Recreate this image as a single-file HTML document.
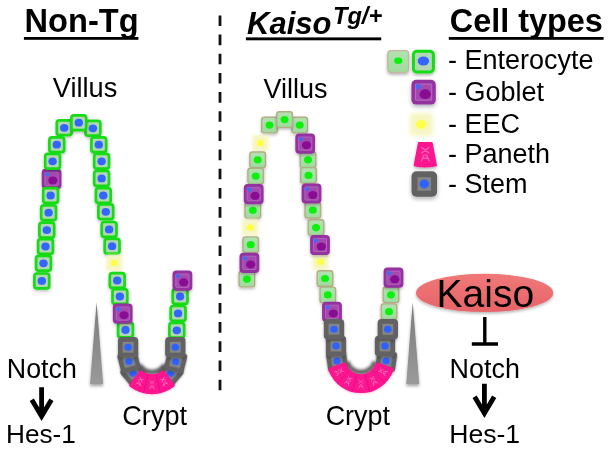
<!DOCTYPE html><html><head><meta charset="utf-8"><title>Kaiso model</title><style>html,body{margin:0;padding:0;background:#fff}</style></head><body><svg width="611" height="450" viewBox="0 0 611 450" style="display:block;font-family:'Liberation Sans',Arial,sans-serif">
<defs>
<filter id="sh" x="-40%" y="-40%" width="180%" height="200%"><feDropShadow dx="0" dy="1.5" stdDeviation="1.5" flood-color="#000" flood-opacity="0.27"/></filter>
<filter id="bl" x="-30%" y="-30%" width="160%" height="160%"><feGaussianBlur stdDeviation="1.4"/></filter>
<linearGradient id="tg" x1="0" y1="0" x2="0" y2="1"><stop offset="0" stop-color="#7a7a7a"/><stop offset="1" stop-color="#9a9a9a"/></linearGradient>
<filter id="sh2" x="-10%" y="-30%" width="120%" height="180%"><feDropShadow dx="0" dy="1.5" stdDeviation="1.5" flood-color="#000" flood-opacity="0.3"/></filter>
<linearGradient id="kg" x1="0" y1="0" x2="0" y2="1"><stop offset="0" stop-color="#f07878"/><stop offset="1" stop-color="#e66468"/></linearGradient>
<filter id="bl2" x="-30%" y="-30%" width="160%" height="160%"><feGaussianBlur stdDeviation="0.5"/></filter>
<filter id="bl3" x="-50%" y="-80%" width="200%" height="260%"><feGaussianBlur stdDeviation="1.7"/></filter>
<filter id="shp" x="-10%" y="-10%" width="120%" height="130%"><feDropShadow dx="0" dy="0.5" stdDeviation="0.8" flood-color="#c06" flood-opacity="0.3"/></filter>
<linearGradient id="egg" x1="0" y1="0" x2="0" y2="1"><stop offset="0" stop-color="#b1e2b1"/><stop offset="1" stop-color="#9edc9e"/></linearGradient>
<filter id="sh3" x="-60%" y="-10%" width="220%" height="125%"><feDropShadow dx="0" dy="2.2" stdDeviation="1.8" flood-color="#000" flood-opacity="0.35"/></filter>
<filter id="shL" x="-30%" y="-30%" width="160%" height="180%"><feDropShadow dx="0" dy="1.8" stdDeviation="1.6" flood-color="#000" flood-opacity="0.3"/></filter>
</defs>
<rect width="611" height="450" fill="#fff"/>
<line x1="220" y1="15.4" x2="220" y2="391" stroke="#111" stroke-width="2.8" stroke-dasharray="10.6 8.57"/>
<path d="M96.6 302.3 L103.2 384 L90 384 Z" fill="url(#tg)" filter="url(#sh3)"/>
<path d="M412.7 302.3 L419.3 384 L406.2 384 Z" fill="url(#tg)" filter="url(#sh3)"/>
<path d="M139.6 365 A14.2 14.2 0 0 0 164.4 365" stroke="#444" stroke-width="5" fill="none" filter="url(#bl3)" opacity="0.85"/>
<path d="M347.2 361.5 A14.2 14.2 0 0 0 374.8 361.5" stroke="#444" stroke-width="5" fill="none" filter="url(#bl3)" opacity="0.85"/>
<g transform="translate(51.6 178.8) rotate(0) scale(1.0)" filter="url(#sh)"><rect x="-9.9" y="-10.1" width="19.8" height="20.2" rx="4" fill="#9431a0"/><rect x="-6.6" y="-6.6" width="13.2" height="13.2" rx="0.8" fill="#a549ae" stroke="#b56abd" stroke-width="0.9"/><ellipse cx="1.3" cy="1.6" rx="4.6" ry="4" fill="#880a92"/><circle cx="-4.3" cy="-4.5" r="2.1" fill="#3f6cf5"/></g>
<g transform="translate(64.2 127.8) rotate(0) scale(1.0)" filter="url(#sh)"><rect x="-7.4" y="-7.4" width="14.8" height="14.8" rx="2.6" fill="#b3d6b3" stroke="#16dc16" stroke-width="2.7"/><ellipse cx="0" cy="0" rx="4.2" ry="3.9" fill="#3366ff"/></g>
<g transform="translate(92.9 128.3) rotate(0) scale(1.0)" filter="url(#sh)"><rect x="-7.4" y="-7.4" width="14.8" height="14.8" rx="2.6" fill="#b3d6b3" stroke="#16dc16" stroke-width="2.7"/><ellipse cx="0" cy="0" rx="4.2" ry="3.9" fill="#3366ff"/></g>
<g transform="translate(56.8 144.7) rotate(0) scale(1.0)" filter="url(#sh)"><rect x="-7.4" y="-7.4" width="14.8" height="14.8" rx="2.6" fill="#b3d6b3" stroke="#16dc16" stroke-width="2.7"/><ellipse cx="0" cy="0" rx="4.2" ry="3.9" fill="#3366ff"/></g>
<g transform="translate(98.8 144.7) rotate(0) scale(1.0)" filter="url(#sh)"><rect x="-7.4" y="-7.4" width="14.8" height="14.8" rx="2.6" fill="#b3d6b3" stroke="#16dc16" stroke-width="2.7"/><ellipse cx="0" cy="0" rx="4.2" ry="3.9" fill="#3366ff"/></g>
<g transform="translate(52.6 161.3) rotate(0) scale(1.0)" filter="url(#sh)"><rect x="-7.4" y="-7.4" width="14.8" height="14.8" rx="2.6" fill="#b3d6b3" stroke="#16dc16" stroke-width="2.7"/><ellipse cx="0" cy="0" rx="4.2" ry="3.9" fill="#3366ff"/></g>
<g transform="translate(101.6 161.3) rotate(0) scale(1.0)" filter="url(#sh)"><rect x="-7.4" y="-7.4" width="14.8" height="14.8" rx="2.6" fill="#b3d6b3" stroke="#16dc16" stroke-width="2.7"/><ellipse cx="0" cy="0" rx="4.2" ry="3.9" fill="#3366ff"/></g>
<g transform="translate(101.6 178.4) rotate(0) scale(1.0)" filter="url(#sh)"><rect x="-7.4" y="-7.4" width="14.8" height="14.8" rx="2.6" fill="#b3d6b3" stroke="#16dc16" stroke-width="2.7"/><ellipse cx="0" cy="0" rx="4.2" ry="3.9" fill="#3366ff"/></g>
<g transform="translate(50.6 195.5) rotate(0) scale(1.0)" filter="url(#sh)"><rect x="-7.4" y="-7.4" width="14.8" height="14.8" rx="2.6" fill="#b3d6b3" stroke="#16dc16" stroke-width="2.7"/><ellipse cx="0" cy="0" rx="4.2" ry="3.9" fill="#3366ff"/></g>
<g transform="translate(103.3 195.5) rotate(0) scale(1.0)" filter="url(#sh)"><rect x="-7.4" y="-7.4" width="14.8" height="14.8" rx="2.6" fill="#b3d6b3" stroke="#16dc16" stroke-width="2.7"/><ellipse cx="0" cy="0" rx="4.2" ry="3.9" fill="#3366ff"/></g>
<g transform="translate(48.6 212.7) rotate(0) scale(1.0)" filter="url(#sh)"><rect x="-7.4" y="-7.4" width="14.8" height="14.8" rx="2.6" fill="#b3d6b3" stroke="#16dc16" stroke-width="2.7"/><ellipse cx="0" cy="0" rx="4.2" ry="3.9" fill="#3366ff"/></g>
<g transform="translate(105.8 211.8) rotate(0) scale(1.0)" filter="url(#sh)"><rect x="-7.4" y="-7.4" width="14.8" height="14.8" rx="2.6" fill="#b3d6b3" stroke="#16dc16" stroke-width="2.7"/><ellipse cx="0" cy="0" rx="4.2" ry="3.9" fill="#3366ff"/></g>
<g transform="translate(46.8 230.1) rotate(0) scale(1.0)" filter="url(#sh)"><rect x="-7.4" y="-7.4" width="14.8" height="14.8" rx="2.6" fill="#b3d6b3" stroke="#16dc16" stroke-width="2.7"/><ellipse cx="0" cy="0" rx="4.2" ry="3.9" fill="#3366ff"/></g>
<g transform="translate(109.1 229.4) rotate(0) scale(1.0)" filter="url(#sh)"><rect x="-7.4" y="-7.4" width="14.8" height="14.8" rx="2.6" fill="#b3d6b3" stroke="#16dc16" stroke-width="2.7"/><ellipse cx="0" cy="0" rx="4.2" ry="3.9" fill="#3366ff"/></g>
<g transform="translate(45.5 246.5) rotate(0) scale(1.0)" filter="url(#sh)"><rect x="-7.4" y="-7.4" width="14.8" height="14.8" rx="2.6" fill="#b3d6b3" stroke="#16dc16" stroke-width="2.7"/><ellipse cx="0" cy="0" rx="4.2" ry="3.9" fill="#3366ff"/></g>
<g transform="translate(112.1 246.2) rotate(0) scale(1.0)" filter="url(#sh)"><rect x="-7.4" y="-7.4" width="14.8" height="14.8" rx="2.6" fill="#b3d6b3" stroke="#16dc16" stroke-width="2.7"/><ellipse cx="0" cy="0" rx="4.2" ry="3.9" fill="#3366ff"/></g>
<g transform="translate(43.5 263.3) rotate(0) scale(1.0)" filter="url(#sh)"><rect x="-7.4" y="-7.4" width="14.8" height="14.8" rx="2.6" fill="#b3d6b3" stroke="#16dc16" stroke-width="2.7"/><ellipse cx="0" cy="0" rx="4.2" ry="3.9" fill="#3366ff"/></g>
<g transform="translate(114.2 263.0) rotate(0) scale(1.0)"><rect x="-8.2" y="-8.2" width="16.4" height="16.4" rx="2" fill="#f6f6c2" filter="url(#bl)"/><ellipse cx="0" cy="0" rx="3.7" ry="3.3" fill="#ffff4a" filter="url(#bl2)"/></g>
<g transform="translate(41.8 280.9) rotate(0) scale(1.0)" filter="url(#sh)"><rect x="-7.4" y="-7.4" width="14.8" height="14.8" rx="2.6" fill="#b3d6b3" stroke="#16dc16" stroke-width="2.7"/><ellipse cx="0" cy="0" rx="4.2" ry="3.9" fill="#3366ff"/></g>
<g transform="translate(117.2 280.5) rotate(0) scale(1.0)" filter="url(#sh)"><rect x="-7.4" y="-7.4" width="14.8" height="14.8" rx="2.6" fill="#b3d6b3" stroke="#16dc16" stroke-width="2.7"/><ellipse cx="0" cy="0" rx="4.2" ry="3.9" fill="#3366ff"/></g>
<g transform="translate(119.9 296.5) rotate(0) scale(1.0)" filter="url(#sh)"><rect x="-7.4" y="-7.4" width="14.8" height="14.8" rx="2.6" fill="#b3d6b3" stroke="#16dc16" stroke-width="2.7"/><ellipse cx="0" cy="0" rx="4.2" ry="3.9" fill="#3366ff"/></g>
<g transform="translate(125.5 330.0) rotate(0) scale(1.0)" filter="url(#sh)"><rect x="-7.4" y="-7.4" width="14.8" height="14.8" rx="2.6" fill="#b3d6b3" stroke="#16dc16" stroke-width="2.7"/><ellipse cx="0" cy="0" rx="4.2" ry="3.9" fill="#3366ff"/></g>
<g transform="translate(180.1 296.5) rotate(0) scale(1.0)" filter="url(#sh)"><rect x="-7.4" y="-7.4" width="14.8" height="14.8" rx="2.6" fill="#b3d6b3" stroke="#16dc16" stroke-width="2.7"/><ellipse cx="0" cy="0" rx="4.2" ry="3.9" fill="#3366ff"/></g>
<g transform="translate(178.1 313.4) rotate(0) scale(1.0)" filter="url(#sh)"><rect x="-7.4" y="-7.4" width="14.8" height="14.8" rx="2.6" fill="#b3d6b3" stroke="#16dc16" stroke-width="2.7"/><ellipse cx="0" cy="0" rx="4.2" ry="3.9" fill="#3366ff"/></g>
<g transform="translate(176.8 330.3) rotate(0) scale(1.0)" filter="url(#sh)"><rect x="-7.4" y="-7.4" width="14.8" height="14.8" rx="2.6" fill="#b3d6b3" stroke="#16dc16" stroke-width="2.7"/><ellipse cx="0" cy="0" rx="4.2" ry="3.9" fill="#3366ff"/></g>
<g transform="translate(78.8 122.7) rotate(0) scale(1.0)" filter="url(#sh)"><rect x="-7.4" y="-7.4" width="14.8" height="14.8" rx="2.6" fill="#b3d6b3" stroke="#16dc16" stroke-width="2.7"/><ellipse cx="0" cy="0" rx="4.2" ry="3.9" fill="#3366ff"/></g>
<g transform="translate(133.1 373.2) rotate(-40) scale(1.0)" filter="url(#sh)"><rect x="-10.2" y="-10.2" width="20.4" height="20.4" rx="4" fill="#626262"/><rect x="-5.4" y="-5.4" width="10.8" height="10.8" fill="#858585"/><ellipse cx="0" cy="0" rx="3.8" ry="3.5" fill="#2e62ff"/></g>
<g transform="translate(170.7 373.2) rotate(40) scale(1.0)" filter="url(#sh)"><rect x="-10.2" y="-10.2" width="20.4" height="20.4" rx="4" fill="#626262"/><rect x="-5.4" y="-5.4" width="10.8" height="10.8" fill="#858585"/><ellipse cx="0" cy="0" rx="3.8" ry="3.5" fill="#2e62ff"/></g>
<g transform="translate(128.9 361.5) rotate(-14) scale(1.0)" filter="url(#sh)"><rect x="-10.2" y="-10.2" width="20.4" height="20.4" rx="4" fill="#626262"/><rect x="-5.4" y="-5.4" width="10.8" height="10.8" fill="#858585"/><ellipse cx="0" cy="0" rx="3.8" ry="3.5" fill="#2e62ff"/></g>
<g transform="translate(175.7 361.8) rotate(14) scale(1.0)" filter="url(#sh)"><rect x="-10.2" y="-10.2" width="20.4" height="20.4" rx="4" fill="#626262"/><rect x="-5.4" y="-5.4" width="10.8" height="10.8" fill="#858585"/><ellipse cx="0" cy="0" rx="3.8" ry="3.5" fill="#2e62ff"/></g>
<g transform="translate(128.1 347.2) rotate(0) scale(1.0)" filter="url(#sh)"><rect x="-10.2" y="-10.2" width="20.4" height="20.4" rx="4" fill="#626262"/><rect x="-5.4" y="-5.4" width="10.8" height="10.8" fill="#858585"/><ellipse cx="0" cy="0" rx="3.8" ry="3.5" fill="#2e62ff"/></g>
<g transform="translate(175.3 347.2) rotate(0) scale(1.0)" filter="url(#sh)"><rect x="-10.2" y="-10.2" width="20.4" height="20.4" rx="4" fill="#626262"/><rect x="-5.4" y="-5.4" width="10.8" height="10.8" fill="#858585"/><ellipse cx="0" cy="0" rx="3.8" ry="3.5" fill="#2e62ff"/></g>
<g transform="translate(122.7 313.6) rotate(0) scale(1.0)" filter="url(#sh)"><rect x="-9.9" y="-10.1" width="19.8" height="20.2" rx="4" fill="#9431a0"/><rect x="-6.6" y="-6.6" width="13.2" height="13.2" rx="0.8" fill="#a549ae" stroke="#b56abd" stroke-width="0.9"/><ellipse cx="1.3" cy="1.6" rx="4.6" ry="4" fill="#880a92"/><circle cx="-4.3" cy="-4.5" r="2.1" fill="#3f6cf5"/></g>
<g transform="translate(182.4 280.7) rotate(0) scale(1.0)" filter="url(#sh)"><rect x="-9.9" y="-10.1" width="19.8" height="20.2" rx="4" fill="#9431a0"/><rect x="-6.6" y="-6.6" width="13.2" height="13.2" rx="0.8" fill="#a549ae" stroke="#b56abd" stroke-width="0.9"/><ellipse cx="1.3" cy="1.6" rx="4.6" ry="4" fill="#880a92"/><circle cx="-4.3" cy="-4.5" r="2.1" fill="#3f6cf5"/></g>
<g transform="translate(269.5 125.1) rotate(0) scale(1.0)" filter="url(#sh)"><rect x="-7.8" y="-7.8" width="15.6" height="15.6" rx="2.6" fill="url(#egg)" stroke="#b3ad84" stroke-width="1.4"/><ellipse cx="0" cy="0" rx="4" ry="3.6" fill="#0df00d"/></g>
<g transform="translate(299.7 125.1) rotate(0) scale(1.0)" filter="url(#sh)"><rect x="-7.8" y="-7.8" width="15.6" height="15.6" rx="2.6" fill="url(#egg)" stroke="#b3ad84" stroke-width="1.4"/><ellipse cx="0" cy="0" rx="4" ry="3.6" fill="#0df00d"/></g>
<g transform="translate(284.6 119.6) rotate(0) scale(1.0)" filter="url(#sh)"><rect x="-7.8" y="-7.8" width="15.6" height="15.6" rx="2.6" fill="url(#egg)" stroke="#b3ad84" stroke-width="1.4"/><ellipse cx="0" cy="0" rx="4" ry="3.6" fill="#0df00d"/></g>
<g transform="translate(260.4 143.1) rotate(0) scale(1.0)"><rect x="-8.2" y="-8.2" width="16.4" height="16.4" rx="2" fill="#f6f6c2" filter="url(#bl)"/><ellipse cx="0" cy="0" rx="3.7" ry="3.3" fill="#ffff4a" filter="url(#bl2)"/></g>
<g transform="translate(257.7 159.8) rotate(0) scale(1.0)" filter="url(#sh)"><rect x="-7.8" y="-7.8" width="15.6" height="15.6" rx="2.6" fill="url(#egg)" stroke="#b3ad84" stroke-width="1.4"/><ellipse cx="0" cy="0" rx="4" ry="3.6" fill="#0df00d"/></g>
<g transform="translate(308.0 159.8) rotate(0) scale(1.0)" filter="url(#sh)"><rect x="-7.8" y="-7.8" width="15.6" height="15.6" rx="2.6" fill="url(#egg)" stroke="#b3ad84" stroke-width="1.4"/><ellipse cx="0" cy="0" rx="4" ry="3.6" fill="#0df00d"/></g>
<g transform="translate(255.7 176.1) rotate(0) scale(1.0)" filter="url(#sh)"><rect x="-7.8" y="-7.8" width="15.6" height="15.6" rx="2.6" fill="url(#egg)" stroke="#b3ad84" stroke-width="1.4"/><ellipse cx="0" cy="0" rx="4" ry="3.6" fill="#0df00d"/></g>
<g transform="translate(308.5 175.4) rotate(0) scale(1.0)" filter="url(#sh)"><rect x="-7.8" y="-7.8" width="15.6" height="15.6" rx="2.6" fill="url(#egg)" stroke="#b3ad84" stroke-width="1.4"/><ellipse cx="0" cy="0" rx="4" ry="3.6" fill="#0df00d"/></g>
<g transform="translate(252.8 210.3) rotate(0) scale(1.0)" filter="url(#sh)"><rect x="-7.8" y="-7.8" width="15.6" height="15.6" rx="2.6" fill="url(#egg)" stroke="#b3ad84" stroke-width="1.4"/><ellipse cx="0" cy="0" rx="4" ry="3.6" fill="#0df00d"/></g>
<g transform="translate(312.8 210.2) rotate(0) scale(1.0)" filter="url(#sh)"><rect x="-7.8" y="-7.8" width="15.6" height="15.6" rx="2.6" fill="url(#egg)" stroke="#b3ad84" stroke-width="1.4"/><ellipse cx="0" cy="0" rx="4" ry="3.6" fill="#0df00d"/></g>
<g transform="translate(250.2 227.6) rotate(0) scale(1.0)"><rect x="-8.2" y="-8.2" width="16.4" height="16.4" rx="2" fill="#f6f6c2" filter="url(#bl)"/><ellipse cx="0" cy="0" rx="3.7" ry="3.3" fill="#ffff4a" filter="url(#bl2)"/></g>
<g transform="translate(316.0 227.6) rotate(0) scale(1.0)" filter="url(#sh)"><rect x="-7.8" y="-7.8" width="15.6" height="15.6" rx="2.6" fill="url(#egg)" stroke="#b3ad84" stroke-width="1.4"/><ellipse cx="0" cy="0" rx="4" ry="3.6" fill="#0df00d"/></g>
<g transform="translate(250.7 244.7) rotate(0) scale(1.0)" filter="url(#sh)"><rect x="-7.8" y="-7.8" width="15.6" height="15.6" rx="2.6" fill="url(#egg)" stroke="#b3ad84" stroke-width="1.4"/><ellipse cx="0" cy="0" rx="4" ry="3.6" fill="#0df00d"/></g>
<g transform="translate(320.4 261.9) rotate(0) scale(1.0)"><rect x="-8.2" y="-8.2" width="16.4" height="16.4" rx="2" fill="#f6f6c2" filter="url(#bl)"/><ellipse cx="0" cy="0" rx="3.7" ry="3.3" fill="#ffff4a" filter="url(#bl2)"/></g>
<g transform="translate(246.9 279.1) rotate(0) scale(1.0)" filter="url(#sh)"><rect x="-7.8" y="-7.8" width="15.6" height="15.6" rx="2.6" fill="url(#egg)" stroke="#b3ad84" stroke-width="1.4"/><ellipse cx="0" cy="0" rx="4" ry="3.6" fill="#0df00d"/></g>
<g transform="translate(325.0 278.5) rotate(0) scale(1.0)" filter="url(#sh)"><rect x="-7.8" y="-7.8" width="15.6" height="15.6" rx="2.6" fill="url(#egg)" stroke="#b3ad84" stroke-width="1.4"/><ellipse cx="0" cy="0" rx="4" ry="3.6" fill="#0df00d"/></g>
<g transform="translate(327.8 294.9) rotate(0) scale(1.0)" filter="url(#sh)"><rect x="-7.8" y="-7.8" width="15.6" height="15.6" rx="2.6" fill="url(#egg)" stroke="#b3ad84" stroke-width="1.4"/><ellipse cx="0" cy="0" rx="4" ry="3.6" fill="#0df00d"/></g>
<g transform="translate(391.0 294.8) rotate(0) scale(1.0)" filter="url(#sh)"><rect x="-7.8" y="-7.8" width="15.6" height="15.6" rx="2.6" fill="url(#egg)" stroke="#b3ad84" stroke-width="1.4"/><ellipse cx="0" cy="0" rx="4" ry="3.6" fill="#0df00d"/></g>
<g transform="translate(389.0 311.7) rotate(0) scale(1.0)" filter="url(#sh)"><rect x="-7.8" y="-7.8" width="15.6" height="15.6" rx="2.6" fill="url(#egg)" stroke="#b3ad84" stroke-width="1.4"/><ellipse cx="0" cy="0" rx="4" ry="3.6" fill="#0df00d"/></g>
<g transform="translate(305.2 143.6) rotate(0) scale(1.0)" filter="url(#sh)"><rect x="-9.9" y="-10.1" width="19.8" height="20.2" rx="4" fill="#9431a0"/><rect x="-6.6" y="-6.6" width="13.2" height="13.2" rx="0.8" fill="#a549ae" stroke="#b56abd" stroke-width="0.9"/><ellipse cx="1.3" cy="1.6" rx="4.6" ry="4" fill="#880a92"/><circle cx="-4.3" cy="-4.5" r="2.1" fill="#3f6cf5"/></g>
<g transform="translate(253.7 194.2) rotate(0) scale(1.0)" filter="url(#sh)"><rect x="-9.9" y="-10.1" width="19.8" height="20.2" rx="4" fill="#9431a0"/><rect x="-6.6" y="-6.6" width="13.2" height="13.2" rx="0.8" fill="#a549ae" stroke="#b56abd" stroke-width="0.9"/><ellipse cx="1.3" cy="1.6" rx="4.6" ry="4" fill="#880a92"/><circle cx="-4.3" cy="-4.5" r="2.1" fill="#3f6cf5"/></g>
<g transform="translate(311.5 193.5) rotate(0) scale(1.0)" filter="url(#sh)"><rect x="-9.9" y="-10.1" width="19.8" height="20.2" rx="4" fill="#9431a0"/><rect x="-6.6" y="-6.6" width="13.2" height="13.2" rx="0.8" fill="#a549ae" stroke="#b56abd" stroke-width="0.9"/><ellipse cx="1.3" cy="1.6" rx="4.6" ry="4" fill="#880a92"/><circle cx="-4.3" cy="-4.5" r="2.1" fill="#3f6cf5"/></g>
<g transform="translate(249.4 262.8) rotate(0) scale(1.0)" filter="url(#sh)"><rect x="-9.9" y="-10.1" width="19.8" height="20.2" rx="4" fill="#9431a0"/><rect x="-6.6" y="-6.6" width="13.2" height="13.2" rx="0.8" fill="#a549ae" stroke="#b56abd" stroke-width="0.9"/><ellipse cx="1.3" cy="1.6" rx="4.6" ry="4" fill="#880a92"/><circle cx="-4.3" cy="-4.5" r="2.1" fill="#3f6cf5"/></g>
<g transform="translate(320.0 245.0) rotate(0) scale(1.0)" filter="url(#sh)"><rect x="-9.9" y="-10.1" width="19.8" height="20.2" rx="4" fill="#9431a0"/><rect x="-6.6" y="-6.6" width="13.2" height="13.2" rx="0.8" fill="#a549ae" stroke="#b56abd" stroke-width="0.9"/><ellipse cx="1.3" cy="1.6" rx="4.6" ry="4" fill="#880a92"/><circle cx="-4.3" cy="-4.5" r="2.1" fill="#3f6cf5"/></g>
<g transform="translate(332.0 311.8) rotate(0) scale(1.0)" filter="url(#sh)"><rect x="-9.9" y="-10.1" width="19.8" height="20.2" rx="4" fill="#9431a0"/><rect x="-6.6" y="-6.6" width="13.2" height="13.2" rx="0.8" fill="#a549ae" stroke="#b56abd" stroke-width="0.9"/><ellipse cx="1.3" cy="1.6" rx="4.6" ry="4" fill="#880a92"/><circle cx="-4.3" cy="-4.5" r="2.1" fill="#3f6cf5"/></g>
<g transform="translate(337.0 361.0) rotate(-8) scale(1.0)" filter="url(#sh)"><rect x="-10.2" y="-10.2" width="20.4" height="20.4" rx="4" fill="#626262"/><rect x="-5.4" y="-5.4" width="10.8" height="10.8" fill="#858585"/><ellipse cx="0" cy="0" rx="3.8" ry="3.5" fill="#2e62ff"/></g>
<g transform="translate(386.2 361.0) rotate(8) scale(1.0)" filter="url(#sh)"><rect x="-10.2" y="-10.2" width="20.4" height="20.4" rx="4" fill="#626262"/><rect x="-5.4" y="-5.4" width="10.8" height="10.8" fill="#858585"/><ellipse cx="0" cy="0" rx="3.8" ry="3.5" fill="#2e62ff"/></g>
<g transform="translate(336.0 346.0) rotate(0) scale(1.0)" filter="url(#sh)"><rect x="-10.2" y="-10.2" width="20.4" height="20.4" rx="4" fill="#626262"/><rect x="-5.4" y="-5.4" width="10.8" height="10.8" fill="#858585"/><ellipse cx="0" cy="0" rx="3.8" ry="3.5" fill="#2e62ff"/></g>
<g transform="translate(385.0 346.0) rotate(0) scale(1.0)" filter="url(#sh)"><rect x="-10.2" y="-10.2" width="20.4" height="20.4" rx="4" fill="#626262"/><rect x="-5.4" y="-5.4" width="10.8" height="10.8" fill="#858585"/><ellipse cx="0" cy="0" rx="3.8" ry="3.5" fill="#2e62ff"/></g>
<g transform="translate(334.0 329.2) rotate(0) scale(1.0)" filter="url(#sh)"><rect x="-10.2" y="-10.2" width="20.4" height="20.4" rx="4" fill="#626262"/><rect x="-5.4" y="-5.4" width="10.8" height="10.8" fill="#858585"/><ellipse cx="0" cy="0" rx="3.8" ry="3.5" fill="#2e62ff"/></g>
<g transform="translate(387.8 329.3) rotate(0) scale(1.0)" filter="url(#sh)"><rect x="-10.2" y="-10.2" width="20.4" height="20.4" rx="4" fill="#626262"/><rect x="-5.4" y="-5.4" width="10.8" height="10.8" fill="#858585"/><ellipse cx="0" cy="0" rx="3.8" ry="3.5" fill="#2e62ff"/></g>
<g transform="translate(393.5 277.7) rotate(0) scale(1.0)" filter="url(#sh)"><rect x="-9.9" y="-10.1" width="19.8" height="20.2" rx="4" fill="#9431a0"/><rect x="-6.6" y="-6.6" width="13.2" height="13.2" rx="0.8" fill="#a549ae" stroke="#b56abd" stroke-width="0.9"/><ellipse cx="1.3" cy="1.6" rx="4.6" ry="4" fill="#880a92"/><circle cx="-4.3" cy="-4.5" r="2.1" fill="#3f6cf5"/></g>
<g filter="url(#shp)"><path d="M140.98 372.73 L131.50 384.99 A33.5 33.5 0 0 0 172.50 384.99 L163.02 372.73 A18.0 18.0 0 0 1 140.98 372.73 Z" fill="#fb1390" stroke="#fb1390" stroke-width="4.4" stroke-linejoin="round"/><path d="M148.10 374.33 L143.58 392.68" stroke="#e20c80" stroke-width="0.8" opacity="0.8"/><path d="M155.90 374.33 L160.42 392.68" stroke="#e20c80" stroke-width="0.8" opacity="0.8"/><g transform="translate(139.81 381.75) rotate(27.7)"><g transform="scale(1.05)" stroke="#ff7ec0" stroke-width="0.85" opacity="0.7" fill="none" stroke-linecap="round"><path d="M-2 -3.8 L2 -0.8 M2 -3.8 L-2 -0.8 M-2.2 3.8 L-0.9 0.6 H0.9 L2.2 3.8 M-1.5 2.3 H1.5"/></g></g><g transform="translate(152.00 384.75) rotate(0.0)"><g transform="scale(1.05)" stroke="#ff7ec0" stroke-width="0.85" opacity="0.7" fill="none" stroke-linecap="round"><path d="M-2 -3.8 L2 -0.8 M2 -3.8 L-2 -0.8 M-2.2 3.8 L-0.9 0.6 H0.9 L2.2 3.8 M-1.5 2.3 H1.5"/></g></g><g transform="translate(164.19 381.75) rotate(-27.7)"><g transform="scale(1.05)" stroke="#ff7ec0" stroke-width="0.85" opacity="0.7" fill="none" stroke-linecap="round"><path d="M-2 -3.8 L2 -0.8 M2 -3.8 L-2 -0.8 M-2.2 3.8 L-0.9 0.6 H0.9 L2.2 3.8 M-1.5 2.3 H1.5"/></g></g></g>
<g filter="url(#shp)"><path d="M344.22 364.74 L330.63 369.79 A32.4 32.4 0 0 0 391.37 369.79 L377.78 364.74 A17.9 17.9 0 0 1 344.22 364.74 Z" fill="#fb1390" stroke="#fb1390" stroke-width="4.4" stroke-linejoin="round"/><path d="M349.73 370.13 L337.27 382.99" stroke="#e20c80" stroke-width="0.8" opacity="0.8"/><path d="M356.89 374.17 L352.35 391.48" stroke="#e20c80" stroke-width="0.8" opacity="0.8"/><path d="M365.11 374.17 L369.65 391.48" stroke="#e20c80" stroke-width="0.8" opacity="0.8"/><path d="M372.27 370.13 L384.73 382.99" stroke="#e20c80" stroke-width="0.8" opacity="0.8"/><g transform="translate(339.06 371.79) rotate(58.8)"><g transform="scale(1.05)" stroke="#ff7ec0" stroke-width="0.85" opacity="0.7" fill="none" stroke-linecap="round"><path d="M-2 -3.8 L2 -0.8 M2 -3.8 L-2 -0.8 M-2.2 3.8 L-0.9 0.6 H0.9 L2.2 3.8 M-1.5 2.3 H1.5"/></g></g><g transform="translate(348.41 380.85) rotate(29.4)"><g transform="scale(1.05)" stroke="#ff7ec0" stroke-width="0.85" opacity="0.7" fill="none" stroke-linecap="round"><path d="M-2 -3.8 L2 -0.8 M2 -3.8 L-2 -0.8 M-2.2 3.8 L-0.9 0.6 H0.9 L2.2 3.8 M-1.5 2.3 H1.5"/></g></g><g transform="translate(361.00 384.15) rotate(0.0)"><g transform="scale(1.05)" stroke="#ff7ec0" stroke-width="0.85" opacity="0.7" fill="none" stroke-linecap="round"><path d="M-2 -3.8 L2 -0.8 M2 -3.8 L-2 -0.8 M-2.2 3.8 L-0.9 0.6 H0.9 L2.2 3.8 M-1.5 2.3 H1.5"/></g></g><g transform="translate(373.59 380.85) rotate(-29.4)"><g transform="scale(1.05)" stroke="#ff7ec0" stroke-width="0.85" opacity="0.7" fill="none" stroke-linecap="round"><path d="M-2 -3.8 L2 -0.8 M2 -3.8 L-2 -0.8 M-2.2 3.8 L-0.9 0.6 H0.9 L2.2 3.8 M-1.5 2.3 H1.5"/></g></g><g transform="translate(382.94 371.79) rotate(-58.8)"><g transform="scale(1.05)" stroke="#ff7ec0" stroke-width="0.85" opacity="0.7" fill="none" stroke-linecap="round"><path d="M-2 -3.8 L2 -0.8 M2 -3.8 L-2 -0.8 M-2.2 3.8 L-0.9 0.6 H0.9 L2.2 3.8 M-1.5 2.3 H1.5"/></g></g></g>
<g transform="translate(398.2 61.5) rotate(0) scale(1.0)" filter="url(#shL)"><rect x="-10.4" y="-10.8" width="20.8" height="21.6" rx="3.4" fill="url(#egg)" stroke="#c6b69c" stroke-width="1.3"/><ellipse cx="0" cy="-0.8" rx="4.1" ry="3.2" fill="#0df00d"/></g>
<g transform="translate(423.4 61.6) rotate(0) scale(1.0)" filter="url(#shL)"><rect x="-10" y="-10.4" width="20" height="20.8" rx="3.4" fill="#b3d6b3" stroke="#16dc16" stroke-width="3"/><ellipse cx="0" cy="-0.6" rx="5.7" ry="4.6" fill="#3366ff"/></g>
<g transform="translate(423.6 92.2) rotate(0) scale(1.23)" filter="url(#shL)"><rect x="-9.9" y="-10.1" width="19.8" height="20.2" rx="4" fill="#9431a0"/><rect x="-6.6" y="-6.6" width="13.2" height="13.2" rx="0.8" fill="#a549ae" stroke="#b56abd" stroke-width="0.9"/><ellipse cx="1.3" cy="1.6" rx="4.6" ry="4" fill="#880a92"/><circle cx="-4.3" cy="-4.5" r="2.1" fill="#3f6cf5"/></g>
<g transform="translate(421.3 124.5) rotate(0) scale(1.4)"><rect x="-8.2" y="-8.2" width="16.4" height="16.4" rx="2" fill="#f6f6c2" filter="url(#bl)"/><ellipse cx="0" cy="0" rx="3.7" ry="3.3" fill="#ffff4a" filter="url(#bl2)"/></g>
<g transform="translate(425.3 154.3) rotate(0) scale(1.0)" filter="url(#shL)"><path d="M-6.6 -11.6 L6.6 -11.6 L10.9 11.2 Q0 13.6 -10.9 11.2 Z" fill="#fb1390" stroke="#fb1390" stroke-width="1.5" stroke-linejoin="round"/><g transform="scale(1.75)" stroke="#ff7ec0" stroke-width="0.85" opacity="0.7" fill="none" stroke-linecap="round"><path d="M-2 -3.8 L2 -0.8 M2 -3.8 L-2 -0.8 M-2.2 3.8 L-0.9 0.6 H0.9 L2.2 3.8 M-1.5 2.3 H1.5"/></g></g>
<g transform="translate(424.3 184.0) rotate(0) scale(1.255)" filter="url(#shL)"><rect x="-10.2" y="-10.2" width="20.4" height="20.4" rx="4" fill="#626262"/><rect x="-5.4" y="-5.4" width="10.8" height="10.8" fill="#858585"/><ellipse cx="0" cy="0" rx="3.8" ry="3.5" fill="#2e62ff"/></g>
<ellipse cx="484.6" cy="292.9" rx="68.6" ry="19.2" fill="url(#kg)" filter="url(#sh2)"/>
<text x="24.6" y="31.9" font-size="32.6" font-weight="bold">Non-Tg</text>
<rect x="23.9" y="37" width="114.5" height="2.8" fill="#000"/>
<text x="247" y="34" font-size="31" font-weight="bold" font-style="italic">Kaiso<tspan font-size="23.7" dy="-9.8" dx="1.5">Tg/+</tspan></text>
<rect x="245.9" y="37.4" width="135.3" height="2.9" fill="#000"/>
<text x="449.8" y="32.4" font-size="32.4" font-weight="bold">Cell types</text>
<rect x="448.8" y="37" width="154.8" height="2.8" fill="#000"/>
<text x="52.8" y="97.3" font-size="27.2" >Villus</text>
<text x="263.4" y="97.6" font-size="27.0" >Villus</text>
<text x="448" y="69" font-size="27" >- Enterocyte</text>
<text x="448" y="101" font-size="27" >- Goblet</text>
<text x="448" y="132.5" font-size="27" >- EEC</text>
<text x="448" y="163" font-size="27" >- Paneth</text>
<text x="448" y="193" font-size="27" >- Stem</text>
<text x="436.6" y="306.9" font-size="39" >Kaiso</text>
<text x="449.6" y="378" font-size="26.9" >Notch</text>
<text x="449.2" y="443" font-size="26.6" >Hes-1</text>
<text x="6.8" y="377.8" font-size="26.8" >Notch</text>
<text x="6" y="443" font-size="26.2" >Hes-1</text>
<text x="122.3" y="424.8" font-size="27.1" >Crypt</text>
<text x="325.7" y="424.8" font-size="26.9" >Crypt</text>
<path d="M484.8 317 V344 M471.8 344 H498" stroke="#000" stroke-width="3.4" fill="none"/>
<path d="M41.6 387.3 V414.7 M31.8 399.7 L41.6 416.2 L51.400000000000006 399.7" stroke="#000" stroke-width="4.8" fill="none" stroke-linejoin="miter" stroke-miterlimit="6"/>
<path d="M484.4 383.8 V411.8 M474.59999999999997 396.8 L484.4 413.3 L494.2 396.8" stroke="#000" stroke-width="4.8" fill="none" stroke-linejoin="miter" stroke-miterlimit="6"/>
</svg></body></html>
